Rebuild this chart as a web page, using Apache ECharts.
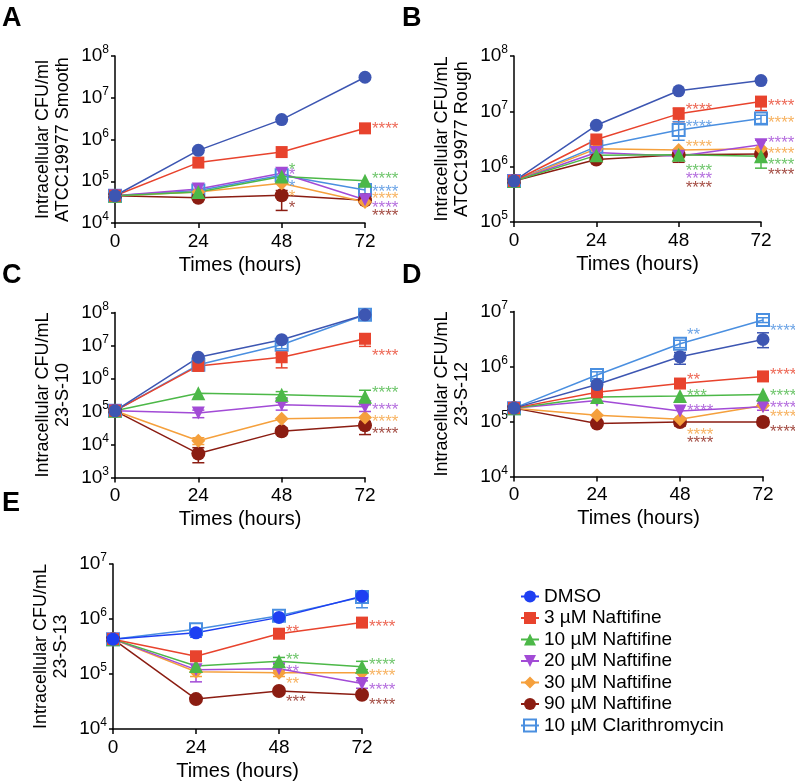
<!DOCTYPE html>
<html>
<head>
<meta charset="utf-8">
<script src="https://cdn.jsdelivr.net/npm/echarts@6/dist/echarts.min.js"></script>
<style>
  html, body { margin: 0; padding: 0; background: #fff; }
  #main { width: 795px; height: 782px; }
</style>
</head>
<body>
<div id="main"></div>
<script>
var FONT = '"Liberation Sans", Arial, sans-serif';

// time points (hours)
var times = [0, 24, 48, 72];
var seriesNames = ['DMSO', '3 µM Naftifine', '10 µM Naftifine', '20 µM Naftifine',
                   '30 µM Naftifine', '90 µM Naftifine', '10 µM Clarithromycin'];
var colors = ['#3d56b2', '#e8432d', '#4cb848', '#a24bd6', '#f5a03c', '#8b1d12', '#4a8fe0'];
var dmsoBright = '#1e3ff2';

// values per panel, rows in seriesNames order, columns = times
var valuesA = [
  [4.5e4, 5.5e5, 3.0e6, 3.1e7],
  [4.5e4, 2.8e5, 5.0e5, 1.85e6],
  [4.5e4, 5.5e4, 1.3e5, 1.03e5],
  [4.5e4, 6.5e4, 1.55e5, 3.6e4],
  [4.5e4, 5.5e4, 9.0e4, 3.2e4],
  [4.5e4, 4.0e4, 4.6e4, 3.5e4],
  [4.5e4, 6.0e4, 1.4e5, 6.2e4]
];
var valuesB = [
  [5.5e5, 5.6e6, 2.35e7, 3.6e7],
  [5.5e5, 3.1e6, 9.0e6, 1.5e7],
  [5.5e5, 1.6e6, 1.65e6, 1.55e6],
  [5.5e5, 1.8e6, 1.55e6, 2.5e6],
  [5.5e5, 2.1e6, 2.0e6, 2.1e6],
  [5.5e5, 1.35e6, 1.65e6, 1.7e6],
  [5.5e5, 2.3e6, 4.6e6, 7.4e6]
];
var valuesC = [
  [1.05e5, 4.4e6, 1.5e7, 8.5e7],
  [1.05e5, 2.4e6, 4.4e6, 1.6e7],
  [1.05e5, 3.6e5, 3.2e5, 2.8e5],
  [1.05e5, 9.0e4, 1.6e5, 1.4e5],
  [1.05e5, 1.3e4, 6.0e4, 6.6e4],
  [1.05e5, 5.3e3, 2.5e4, 3.8e4],
  [1.05e5, 2.6e6, 1.05e7, 8.5e7]
];
var valuesD = [
  [1.75e5, 4.7e5, 1.5e6, 3.1e6],
  [1.75e5, 3.4e5, 4.9e5, 6.6e5],
  [1.75e5, 2.8e5, 2.9e5, 3.1e5],
  [1.75e5, 2.4e5, 1.55e5, 1.85e5],
  [1.75e5, 1.3e5, 1.1e5, 1.95e5],
  [1.75e5, 9.2e4, 9.8e4, 9.8e4],
  [1.75e5, 7.0e5, 2.6e6, 7.0e6]
];
var valuesE = [
  [4.3e5, 5.6e5, 1.07e6, 2.6e6],
  [4.3e5, 2.1e5, 5.4e5, 8.6e5],
  [4.3e5, 1.4e5, 1.7e5, 1.35e5],
  [4.3e5, 1.2e5, 1.25e5, 6.7e4],
  [4.3e5, 1.1e5, 1.05e5, 1.05e5],
  [4.3e5, 3.5e4, 4.9e4, 4.2e4],
  [4.3e5, 6.5e5, 1.15e6, 2.5e6]
];

// error bars: [series, time, low, high]
var errorsA = [[5, 48, 2.0e4, 6.0e4], [6, 72, 5.0e4, 7.5e4]];
var errorsB = [[1, 48, 6.5e6, 1.15e7], [6, 48, 3.0e6, 6.5e6], [1, 72, 1.03e7, 1.6e7],
               [5, 48, 1.2e6, 1.8e6], [2, 72, 9.4e5, 2.1e6], [3, 72, 2.0e6, 3.0e6], [6, 72, 6.0e6, 8.5e6]];
var errorsC = [[1, 48, 2.1e6, 5.5e6], [1, 72, 9.4e6, 2.0e7], [2, 72, 1.8e5, 4.4e5], [2, 48, 2.6e5, 4.0e5],
               [3, 24, 6.5e4, 1.1e5], [3, 48, 1.1e5, 1.9e5], [3, 72, 1.0e5, 1.6e5], [4, 24, 1.0e4, 1.6e4],
               [5, 24, 2.8e3, 8.0e3], [5, 48, 2.0e4, 3.2e4], [5, 72, 2.0e4, 5.0e4], [6, 48, 8.0e6, 1.3e7]];
var errorsD = [[0, 72, 2.2e6, 4.1e6], [0, 48, 1.1e6, 1.8e6], [5, 72, 8.5e4, 1.15e5], [5, 48, 8.3e4, 1.1e5],
               [3, 72, 1.6e5, 2.1e5], [6, 48, 2.2e6, 3.0e6], [6, 24, 6.0e5, 8.0e5], [6, 72, 6.3e6, 7.7e6]];
var errorsE = [[6, 72, 1.6e6, 3.2e6], [3, 24, 7.2e4, 1.2e5], [2, 48, 1.5e5, 2.0e5], [2, 72, 1.2e5, 1.7e5],
               [3, 72, 5.5e4, 7.5e4], [0, 24, 4.7e5, 6.5e5], [4, 48, 9.0e4, 1.15e5], [4, 24, 9.0e4, 1.2e5]];

// significance marks: [series colour, time, value at which the text sits, text]
var starsA = [[2, 48, 2.4e5, '*'], [3, 48, 1.8e5, '*'], [6, 48, 9.3e4, '*'], [4, 48, 5.5e4, '*'], [5, 48, 2.9e4, '*'],
              [1, 72, 2.3e6, '****'], [2, 72, 1.5e5, '****'], [6, 72, 7.0e4, '****'], [4, 72, 4.8e4, '****'],
              [3, 72, 2.9e4, '****'], [5, 72, 1.9e4, '****']];
var starsB = [[1, 48, 1.3e7, '****'], [6, 48, 6.3e6, '****'], [4, 48, 2.7e6, '****'], [2, 48, 1.03e6, '****'],
              [3, 48, 7.4e5, '****'], [5, 48, 5.1e5, '****'], [1, 72, 1.5e7, '****'], [4, 72, 7.4e6, '****'],
              [3, 72, 3.2e6, '****'], [4, 72, 2.1e6, '****'], [2, 72, 1.3e6, '****'], [5, 72, 8.5e5, '****']];
var starsC = [[1, 72, 6.6e6, '****'], [2, 72, 4.9e5, '****'], [3, 72, 1.5e5, '****'], [4, 72, 6.6e4, '****'],
              [5, 72, 2.8e4, '****']];
var starsD = [[6, 48, 4.5e6, '**'], [1, 48, 7.0e5, '**'], [2, 48, 3.6e5, '***'], [3, 48, 1.9e5, '****'],
              [4, 48, 6.9e4, '****'], [5, 48, 5.0e4, '****'], [6, 72, 5.3e6, '****'], [1, 72, 8.7e5, '****'],
              [2, 72, 3.6e5, '****'], [3, 72, 2.15e5, '****'], [4, 72, 1.45e5, '****'], [5, 72, 7.8e4, '****']];
var starsE = [[1, 48, 7.0e5, '**'], [2, 48, 2.15e5, '**'], [3, 48, 1.35e5, '**'], [4, 48, 7.9e4, '**'],
              [5, 48, 3.7e4, '***'], [1, 72, 8.6e5, '****'], [2, 72, 1.8e5, '****'], [4, 72, 1.1e5, '****'],
              [3, 72, 6.1e4, '****'], [5, 72, 3.3e4, '****']];

var symbols = ['circle', 'rect', 'triangle', 'path://M0,0L10,0L5,10Z', 'diamond', 'circle', 'rect'];
var symbolSizes = [13, 12, 14, 13, 14, 14, 12];

var panels = [
  {letter: 'A', values: valuesA, errors: errorsA, stars: starsA, min: 1e4, max: 1e8,
   grid: {left: 115, top: 56, width: 250, height: 167}, title: 'Intracellular CFU/ml\nATCC19977 Smooth', dmso: colors[0]},
  {letter: 'B', values: valuesB, errors: errorsB, stars: starsB, min: 1e5, max: 1e8,
   grid: {left: 514, top: 56, width: 247, height: 166}, title: 'Intracellular CFU/mL\nATCC19977 Rough', dmso: colors[0]},
  {letter: 'C', values: valuesC, errors: errorsC, stars: starsC, min: 1e3, max: 1e8,
   grid: {left: 115, top: 312.5, width: 250, height: 165}, title: 'Intracellular CFU/mL\n23-S-10', dmso: colors[0]},
  {letter: 'D', values: valuesD, errors: errorsD, stars: starsD, min: 1e4, max: 1e7,
   grid: {left: 514, top: 311.5, width: 249, height: 165}, title: 'Intracellular CFU/mL\n23-S-12', dmso: colors[0]},
  {letter: 'E', values: valuesE, errors: errorsE, stars: starsE, min: 1e4, max: 1e7,
   grid: {left: 113, top: 564, width: 249, height: 165}, title: 'Intracellular CFU/mL\n23-S-13', dmso: dmsoBright}
];
var letterPos = [[2, 5], [402, 5], [2, 262], [402, 262], [2, 490]];

var grids = [], xAxes = [], yAxes = [], series = [], graphics = [];

panels.forEach(function (p, k) {
  grids.push(Object.assign({outerBoundsMode: 'none', containLabel: false}, p.grid));
  xAxes.push({
    gridIndex: k, type: 'value', min: 0, max: 72, interval: 24,
    name: 'Times (hours)', nameLocation: 'middle', nameGap: 32, nameMoveOverlap: false,
    nameTextStyle: {fontFamily: FONT, fontSize: 20, color: '#000'},
    axisLine: {show: true, onZero: false, lineStyle: {color: '#000', width: 1.5}},
    axisTick: {show: true, length: 5, lineStyle: {color: '#000', width: 1.5}},
    axisLabel: {fontFamily: FONT, fontSize: 19, color: '#000', margin: 9},
    splitLine: {show: false}
  });
  yAxes.push({
    gridIndex: k, type: 'log', logBase: 10, min: p.min, max: p.max, interval: 1,
    name: p.title, nameLocation: 'middle', nameGap: 42, nameMoveOverlap: false,
    nameTextStyle: {fontFamily: FONT, fontSize: 18, color: '#000', lineHeight: 20},
    axisLine: {show: true, lineStyle: {color: '#000', width: 1.5}},
    axisTick: {show: true, length: 4, lineStyle: {color: '#000', width: 1.5}},
    axisLabel: {
      margin: 6,
      formatter: function (v) { return '{b|10}{s|' + Math.round(Math.log10(v)) + '}'; },
      rich: {
        b: {fontFamily: FONT, fontSize: 19, color: '#000', lineHeight: 24},
        s: {fontFamily: FONT, fontSize: 12, color: '#000', lineHeight: 12, verticalAlign: 'top'}
      }
    },
    splitLine: {show: false}
  });

  // lines, drawn clarithromycin first so DMSO ends on top
  for (var i = seriesNames.length - 1; i >= 0; i--) {
    var c = i === 0 ? p.dmso : colors[i];
    series.push({
      name: seriesNames[i], type: 'line', xAxisIndex: k, yAxisIndex: k,
      data: times.map(function (t, j) { return [t, p.values[i][j]]; }),
      symbol: symbols[i], symbolSize: symbolSizes[i],
      lineStyle: {color: c, width: 1.5},
      itemStyle: i === 6 ? {color: 'rgba(255,255,255,0)', borderColor: c, borderWidth: 2} : {color: c},
      z: 3, animation: false
    });
  }

  series.push({
    type: 'custom', xAxisIndex: k, yAxisIndex: k, z: 2, silent: true, animation: false,
    data: p.errors.map(function (e) { return [e[1], e[2], e[3], e[0]]; }),
    encode: {x: 0, y: [1, 2]},
    renderItem: function (params, api) {
      var lo = api.coord([api.value(0), api.value(1)]);
      var hi = api.coord([api.value(0), api.value(2)]);
      var idx = api.value(3);
      var col = idx === 0 ? p.dmso : colors[idx];
      var st = {stroke: col, lineWidth: 1.5};
      return {type: 'group', children: [
        {type: 'line', shape: {x1: lo[0], y1: lo[1], x2: hi[0], y2: hi[1]}, style: st},
        {type: 'line', shape: {x1: lo[0] - 6, y1: lo[1], x2: lo[0] + 6, y2: lo[1]}, style: st},
        {type: 'line', shape: {x1: hi[0] - 6, y1: hi[1], x2: hi[0] + 6, y2: hi[1]}, style: st}
      ]};
    }
  });

  series.push({
    type: 'scatter', xAxisIndex: k, yAxisIndex: k, symbolSize: 0, silent: true, animation: false, z: 4,
    data: p.stars.map(function (s) {
      return {value: [s[1], s[2]], label: {formatter: s[3], color: colors[s[0]]}};
    }),
    label: {show: true, position: 'right', distance: 7, fontFamily: FONT, fontSize: 17, offset: [0, 5]}
  });

  graphics.push({
    type: 'text', left: letterPos[k][0], top: letterPos[k][1],
    style: {text: p.letter, font: 'bold 27px ' + FONT, fill: '#000'}
  });
});

var legendData = seriesNames.map(function (n, i) {
  if (i === 0) {
    return {name: n, itemStyle: {color: dmsoBright}, lineStyle: {color: dmsoBright}};
  }
  return {name: n};
});

var chart = echarts.init(document.getElementById('main'), null, {renderer: 'canvas'});
chart.setOption({
  animation: false,
  backgroundColor: '#fff',
  grid: grids,
  xAxis: xAxes,
  yAxis: yAxes,
  legend: {
    data: legendData, orient: 'vertical', left: 515, top: 582,
    itemWidth: 18, itemHeight: 15, itemGap: 2.5,
    textStyle: {fontFamily: FONT, fontSize: 19, color: '#000', lineHeight: 19}
  },
  graphic: graphics,
  series: series
});
</script>
</body>
</html>
